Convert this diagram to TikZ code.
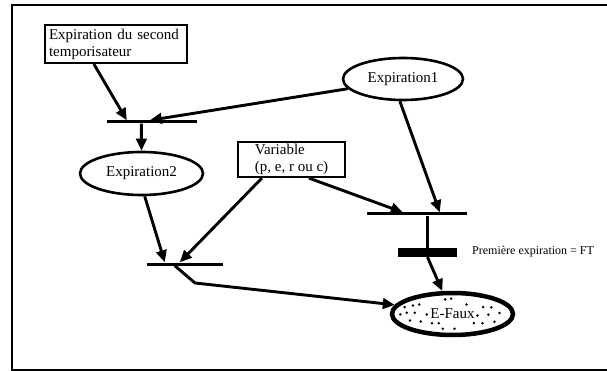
\documentclass[tikz,border=0pt]{standalone}
\usepackage{fontspec}
\setmainfont{Liberation Serif}
\usetikzlibrary{arrows.meta,shapes.geometric,calc}
\begin{document}
\begin{tikzpicture}[x=1pt,y=-1pt,
  conn/.style={line width=2.9pt,-{Triangle[length=12pt,width=10.5pt]}},
  plain/.style={line width=2.6pt},
  boxnode/.style={draw,line width=2.2pt,inner sep=0pt,align=left,font=\fontsize{15}{17}\selectfont},
  place/.style={ellipse,draw,line width=2.6pt,inner sep=0pt,font=\fontsize{15}{17}\selectfont},
  bar/.style={fill=black,inner sep=0pt,minimum height=3pt}]
\useasboundingbox (0,0) rectangle (607,371);
\draw[line width=2.2pt] (607,5) -- (12,5) -- (12,370) -- (607,370);

\node[boxnode,minimum width=142pt,minimum height=38pt,text width=134pt] (box1) at (116,44) {Expiration du second\\temporisateur};
\node[place,minimum width=120pt,minimum height=42pt] (exp1) at (403,79) {Expiration1};
\node[bar,minimum width=90pt] (t1) at (152,122) {};
\node[place,minimum width=123pt,minimum height=43pt] (exp2) at (141.5,173.5) {Expiration2};
\node[boxnode,minimum width=107pt,minimum height=35pt] (var) at (291.5,159.5) {Variable\\(p, e, r ou c)};
\node[bar,minimum width=100pt] (t2) at (417,214) {};
\node[bar,minimum width=59pt,minimum height=9pt] (ft) at (427.5,252.5) {};
\node[anchor=west,inner sep=0pt,font=\fontsize{12}{14}\selectfont] (lbl) at (472,252) {Première expiration = FT};
\node[bar,minimum width=76pt] (t3) at (185,264) {};
\node[place,line width=4.5pt,minimum width=121pt,minimum height=42pt] (ef) at (452.5,314) {E-Faux};

% dots inside E-Faux
\foreach \i in {0,...,12} {
  \foreach \j in {0,...,4} {
    \pgfmathsetmacro\dx{-54+9*\i+4.5*mod(\j,2)+2*sin(97*\i+53*\j)}
    \pgfmathsetmacro\dy{-16+8*\j+1.5*cos(71*\i+37*\j)}
    \pgfmathtruncatemacro\ins{((\dx/53)^2+(\dy/16)^2<1) && !(abs(\dx)<25 && abs(\dy)<9) ? 1 : 0}
    \ifnum\ins=1 \fill ($(ef.center)+(\dx,\dy)$) circle (1.4pt); \fi
  }
}

% bar arrival points
\coordinate (t1a) at ($(t1.north west)+(20,0)$);
\coordinate (t1b) at ($(t1.north west)+(43,0)$);
\coordinate (t1o) at ($(t1.south west)+(34.5,0)$);
\coordinate (t2a) at ($(t2.north west)+(36,0)$);
\coordinate (t2b) at ($(t2.north west)+(73,0)$);
\coordinate (t3a) at ($(t3.north west)+(18,0)$);
\coordinate (t3b) at ($(t3.north west)+(33,0)$);
\coordinate (t3o) at ($(t3.south west)+(28,0)$);
\coordinate (bend) at (195,283);

\draw[conn] ($(box1.south west)+(50,0)$) -- (t1a);
\draw[conn] (exp1.190) -- (t1b);
\draw[conn] (t1o) -- (exp2.north);
\draw[conn] (exp1.262) -- (t2b);
\draw[conn] ($(var.south west)+(72,0)$) -- (t2a);
\draw[conn] ($(var.south west)+(25,0)$) -- (t3b);
\draw[conn] (exp2.278) -- (t3a);
\draw[plain] (ft.north) -- (ft.north |- t2.south);
\draw[conn] (ft.south) -- (ef.114);
\draw[conn,line join=round] (t3o) -- (bend) -- (ef.171);
\end{tikzpicture}
\end{document}
